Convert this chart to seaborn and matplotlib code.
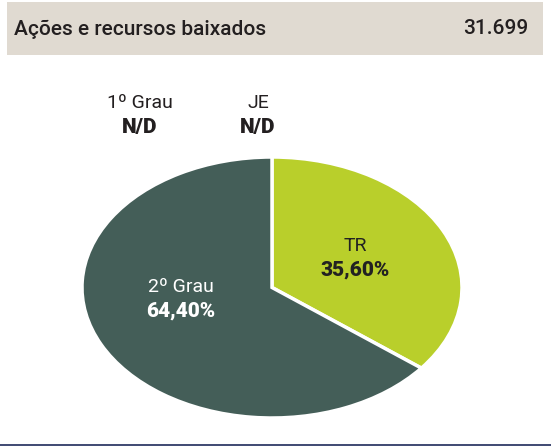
import matplotlib.pyplot as plt
import seaborn as sns
from matplotlib.patches import Rectangle

# data
title = "Ações e recursos baixados"
total = "31.699"
categories = ["TR", "2º Grau"]
shares = [35.60, 64.40]
missing = ["1º Grau", "JE"]
missing_value = "N/D"

colors = ["#b9cf2b", "#445e58"]
text_colors = ["#222222", "white"]

sns.set_theme(style="white")
plt.rcParams["font.family"] = ["Roboto", "DejaVu Sans"]

fig = plt.figure(figsize=(5.51, 4.46), dpi=100)

# header band
fig.patches.append(Rectangle((7 / 551, 1 - 55 / 446), 536 / 551, 53 / 446,
                             transform=fig.transFigure, facecolor="#e0dad1",
                             edgecolor="none", zorder=0))
fig.text(14 / 551, 1 - 29 / 446, title, fontsize=15, fontweight="medium",
         color="#231f20", va="center", ha="left")
fig.text(528 / 551, 1 - 29 / 446, total, fontsize=15, fontweight="medium",
         color="#231f20", va="center", ha="right")

# bottom rule
fig.add_artist(plt.Line2D([0, 1], [1 / 446, 1 / 446], transform=fig.transFigure,
                          color="#1f2a5a", linewidth=1.2))

# pie (stretched into an ellipse)
ax = fig.add_axes([82 / 551, (446 - 418) / 446, 380 / 551, 261 / 446])
wedges, _ = ax.pie(shares, colors=colors, startangle=90, counterclock=False,
                   wedgeprops=dict(edgecolor="white", linewidth=2.5))
ax.set_aspect("auto")
ax.set_xlim(-1, 1)
ax.set_ylim(-1, 1)
ax.axis("off")

label_pos = [(355, 246), (181, 287)]
for name, val, (px, py), tc in zip(categories, shares, label_pos, text_colors):
    fig.text(px / 551, 1 - py / 446, name, fontsize=14, color=tc,
             ha="center", va="center")
    fig.text(px / 551, 1 - (py + 24) / 446, f"{val:.2f}%".replace(".", ","),
             fontsize=15, fontweight="black", color=tc, ha="center", va="center")

for name, px in zip(missing, [140, 258]):
    fig.text(px / 551, 1 - 103 / 446, name, fontsize=14, color="#231f20",
             ha="center", va="center")
    fig.text(px / 551, 1 - 127 / 446, missing_value, fontsize=15,
             fontweight="black", color="#231f20", ha="center", va="center")

fig.savefig("out.png", dpi=100)
